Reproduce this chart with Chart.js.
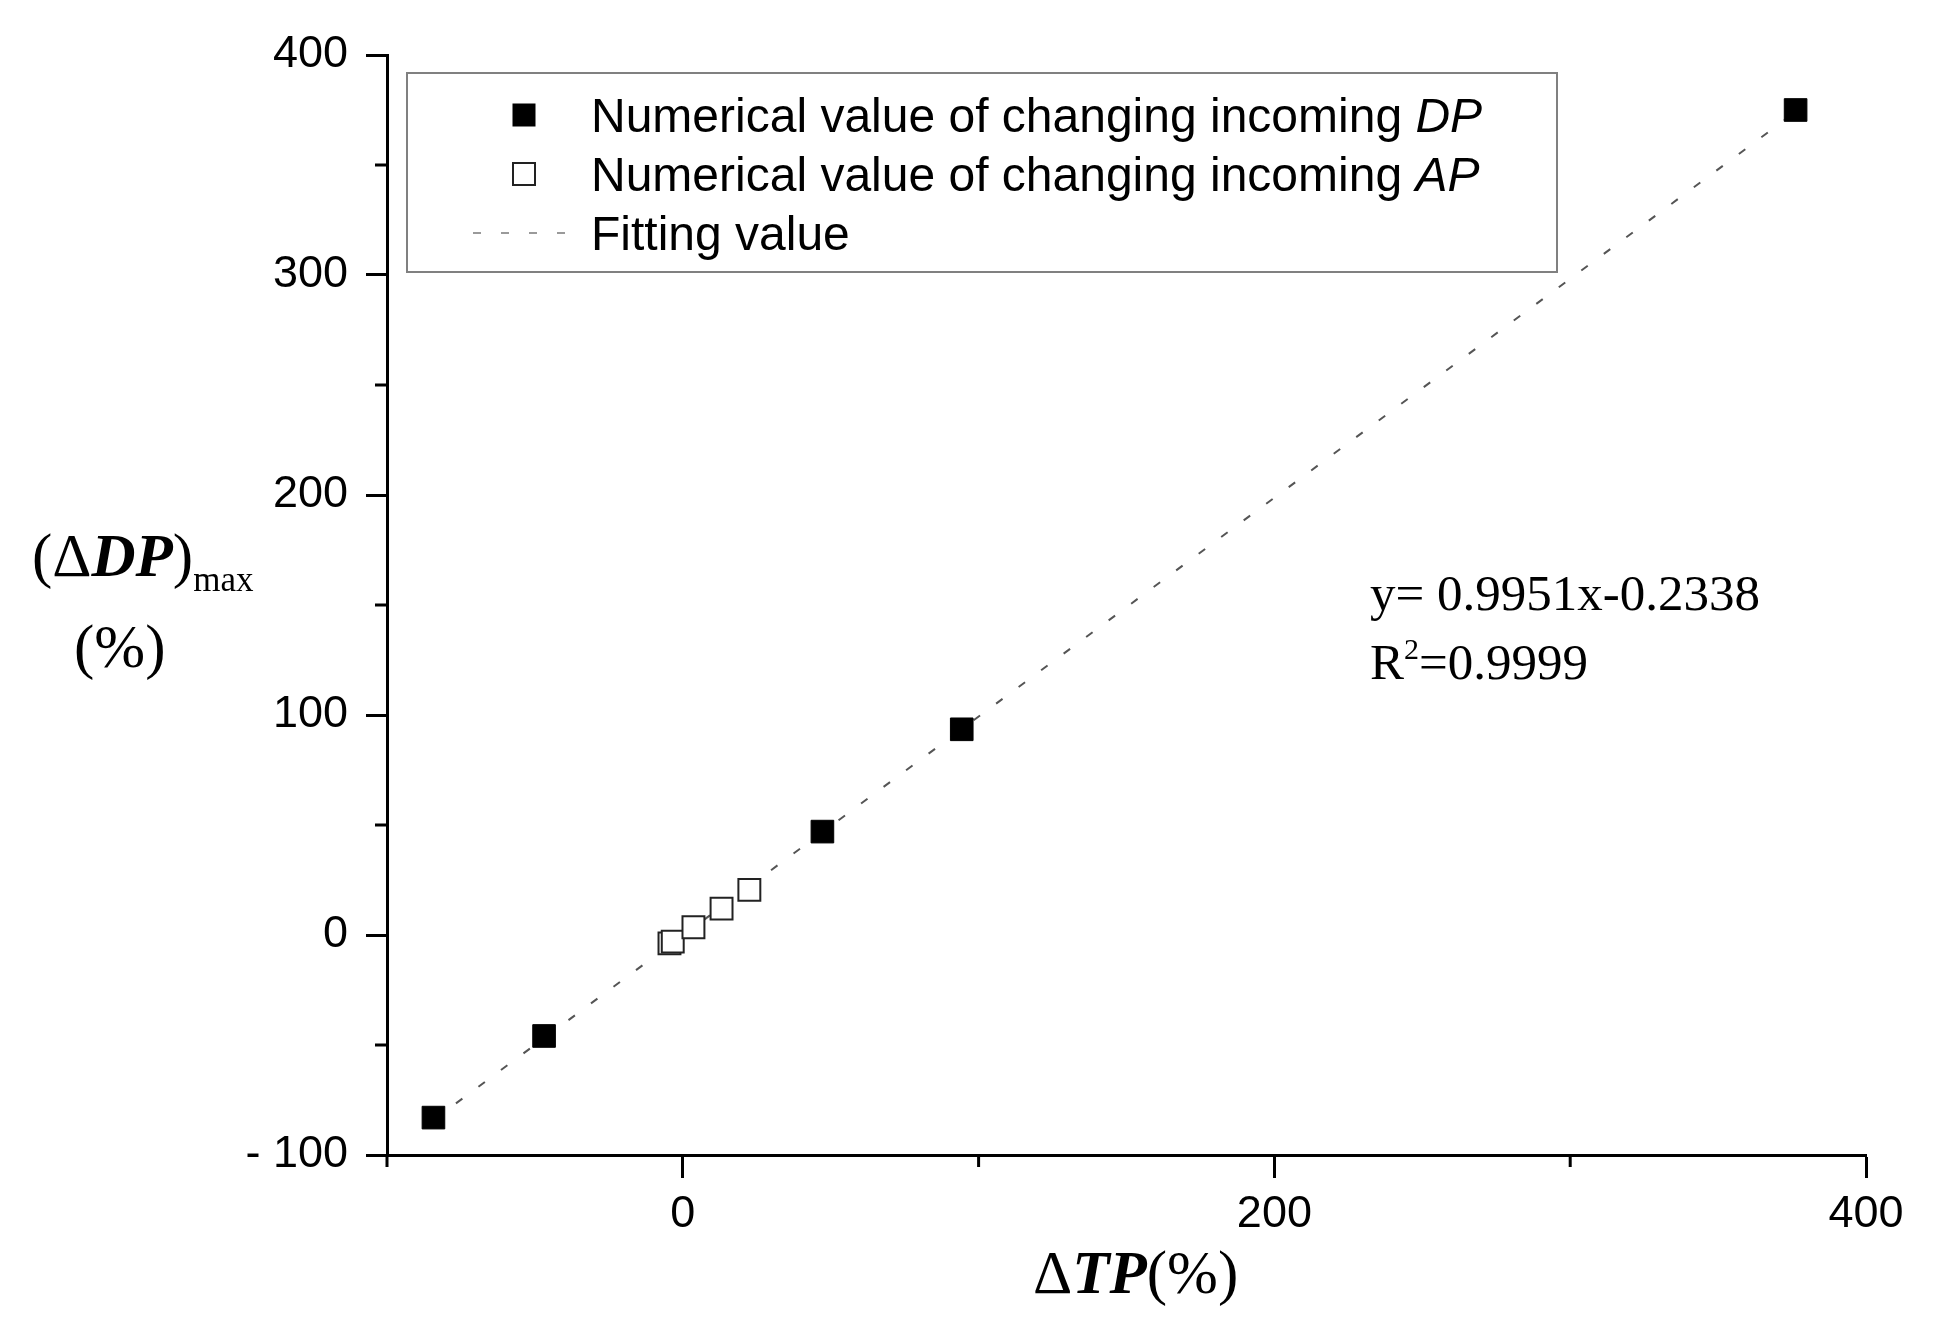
<html>
  <head>
    <title>Delta TP vs (Delta DP)max</title>
    <script src="https://cdn.jsdelivr.net/npm/chart.js@4.4.1/dist/chart.umd.min.js"></script>
    <style>
      html, body { margin: 0; padding: 0; background: #fff; }
      #wrap { width: 1951px; height: 1335px; position: relative; }
    </style>
  </head>
  <body>
    <div id="wrap">
      <canvas id="fit-chart"></canvas>
    </div>
    <script>
      // values
      var dpX = [-84.3, -46.9, 47.2, 94.3, 376.2];
      var dpY = [-83.0, -45.9, 47.0, 93.5, 375.0];
      var apX = [-4.5, -3.4, 3.6, 13.1, 22.5];
      var apY = [-3.8, -3.0, 3.5, 12.0, 20.5];
      var fitX = [-84.3, 376.2];
      var fitY = [-84.1, 374.1];

      var xMajorTicks = [0, 200, 400];
      var xMinorTicks = [-100, 100, 300];
      var yMajorTicks = [-100, 0, 100, 200, 300, 400];
      var yMinorTicks = [-50, 50, 150, 250, 350];
      var yTickLabels = ['- 100', '0', '100', '200', '300', '400'];

      var legendLabels = ['Numerical value of changing incoming ', 'Numerical value of changing incoming ', 'Fitting value'];
      var legendItalic = ['DP', 'AP', ''];

      var SANS = '"Liberation Sans", Arial, sans-serif';
      var SERIF = '"Liberation Serif", "Times New Roman", serif';

      function pts(xs, ys) {
        return xs.map(function(x, i) { return {x: x, y: ys[i]}; });
      }

      // draws a list of text pieces one after another on one baseline
      function runs(ctx, x, y, parts) {
        ctx.textBaseline = 'alphabetic';
        ctx.textAlign = 'left';
        parts.forEach(function(p) {
          ctx.font = p.font;
          ctx.fillText(p.t, x, y + (p.dy || 0));
          x += ctx.measureText(p.t).width;
        });
      }

      var decor = {
        id: 'decor',
        afterDraw: function(chart) {
          var ctx = chart.ctx;
          var xs = chart.scales.x, ys = chart.scales.y;
          var area = chart.chartArea;
          ctx.save();
          ctx.strokeStyle = '#000';
          ctx.lineWidth = 3;
          // minor ticks
          ctx.beginPath();
          xMinorTicks.forEach(function(v) {
            var px = xs.getPixelForValue(v);
            ctx.moveTo(px, area.bottom);
            ctx.lineTo(px, area.bottom + 12);
          });
          yMinorTicks.forEach(function(v) {
            var py = ys.getPixelForValue(v);
            ctx.moveTo(area.left, py);
            ctx.lineTo(area.left - 12, py);
          });
          ctx.stroke();

          ctx.fillStyle = '#000';
          // y axis title
          runs(ctx, 32, 576, [
            {t: '(\u0394', font: '61px ' + SERIF},
            {t: 'DP', font: 'italic bold 61px ' + SERIF},
            {t: ')', font: '61px ' + SERIF},
            {t: 'max', font: '35px ' + SERIF, dy: 15}
          ]);
          runs(ctx, 74, 667, [{t: '(%)', font: '61px ' + SERIF}]);
          // x axis title
          runs(ctx, 1033, 1293, [
            {t: '\u0394', font: '61px ' + SERIF},
            {t: 'TP', font: 'italic bold 61px ' + SERIF},
            {t: '(%)', font: '61px ' + SERIF}
          ]);
          // fit equation
          runs(ctx, 1370, 610, [{t: 'y= 0.9951x-0.2338', font: '51px ' + SERIF}]);
          runs(ctx, 1370, 679, [
            {t: 'R', font: '51px ' + SERIF},
            {t: '2', font: '30px ' + SERIF, dy: -20},
            {t: '=0.9999', font: '51px ' + SERIF}
          ]);

          // legend box
          var lx = area.left + 20, ly = area.top + 18, lw = 1150, lh = 199;
          ctx.strokeStyle = '#808080';
          ctx.lineWidth = 2;
          ctx.strokeRect(lx, ly, lw, lh);
          var mx = lx + 117;
          var rows = [ly + 42, ly + 101, ly + 160];
          var ds = chart.data.datasets;
          // filled square
          ctx.fillStyle = ds[0].backgroundColor;
          ctx.fillRect(mx - 11.5, rows[0] - 11.5, 23, 23);
          // hollow square
          ctx.fillStyle = '#fff';
          ctx.strokeStyle = ds[1].borderColor;
          ctx.lineWidth = 2;
          ctx.fillRect(mx - 11, rows[1] - 11, 22, 22);
          ctx.strokeRect(mx - 11, rows[1] - 11, 22, 22);
          // dashed line
          ctx.strokeStyle = '#9a9a9a';
          ctx.lineWidth = 2;
          ctx.setLineDash([8, 20]);
          ctx.beginPath();
          ctx.moveTo(mx - 51, rows[2]);
          ctx.lineTo(mx + 45, rows[2]);
          ctx.stroke();
          ctx.setLineDash([]);
          ctx.fillStyle = '#000';
          legendLabels.forEach(function(lbl, i) {
            runs(ctx, lx + 184, rows[i] + 17, [
              {t: lbl, font: '48px ' + SANS},
              {t: legendItalic[i], font: 'italic 48px ' + SANS}
            ]);
          });
          ctx.restore();
        }
      };

      new Chart('fit-chart', {
        type: 'scatter',
        data: {
          datasets: [
            {
              label: 'Numerical value of changing incoming DP',
              data: pts(dpX, dpY),
              pointStyle: 'rect',
              pointRadius: 16,
              backgroundColor: '#000',
              borderColor: '#000',
              borderWidth: 1
            },
            {
              label: 'Numerical value of changing incoming AP',
              data: pts(apX, apY),
              pointStyle: 'rect',
              pointRadius: 15.5,
              backgroundColor: '#fff',
              borderColor: '#222',
              borderWidth: 2
            },
            {
              label: 'Fitting value',
              data: pts(fitX, fitY),
              showLine: true,
              pointRadius: 0,
              borderColor: '#555',
              borderWidth: 2,
              borderDash: [8, 20]
            }
          ]
        },
        options: {
          responsive: true,
          maintainAspectRatio: false,
          animation: false,
          devicePixelRatio: 1,
          layout: {
            padding: {top: 55, right: 85, bottom: 0, left: 0}
          },
          plugins: {
            legend: {display: false},
            tooltip: {enabled: false}
          },
          scales: {
            x: {
              type: 'linear',
              min: -100,
              max: 400,
              afterBuildTicks: function(s) { s.ticks = xMajorTicks.map(function(v) { return {value: v}; }); },
              afterFit: function(s) { s.height = 180; },
              border: {display: true, color: '#000', width: 3},
              grid: {drawOnChartArea: false, drawTicks: true, tickLength: 23, tickWidth: 3, tickColor: '#000'},
              ticks: {
                color: '#000',
                padding: 10,
                maxRotation: 0,
                font: {family: SANS, size: 45}
              }
            },
            y: {
              type: 'linear',
              min: -100,
              max: 400,
              afterBuildTicks: function(s) { s.ticks = yMajorTicks.map(function(v) { return {value: v}; }); },
              afterFit: function(s) { s.width = 387; },
              border: {display: true, color: '#000', width: 3},
              grid: {drawOnChartArea: false, drawTicks: true, tickLength: 21, tickWidth: 3, tickColor: '#000'},
              ticks: {
                color: '#000',
                padding: 18,
                font: {family: SANS, size: 45},
                callback: function(v) {
                  var i = yMajorTicks.indexOf(v);
                  return i >= 0 ? yTickLabels[i] : '';
                }
              }
            }
          }
        },
        plugins: [decor]
      });
    </script>
  </body>
</html>
